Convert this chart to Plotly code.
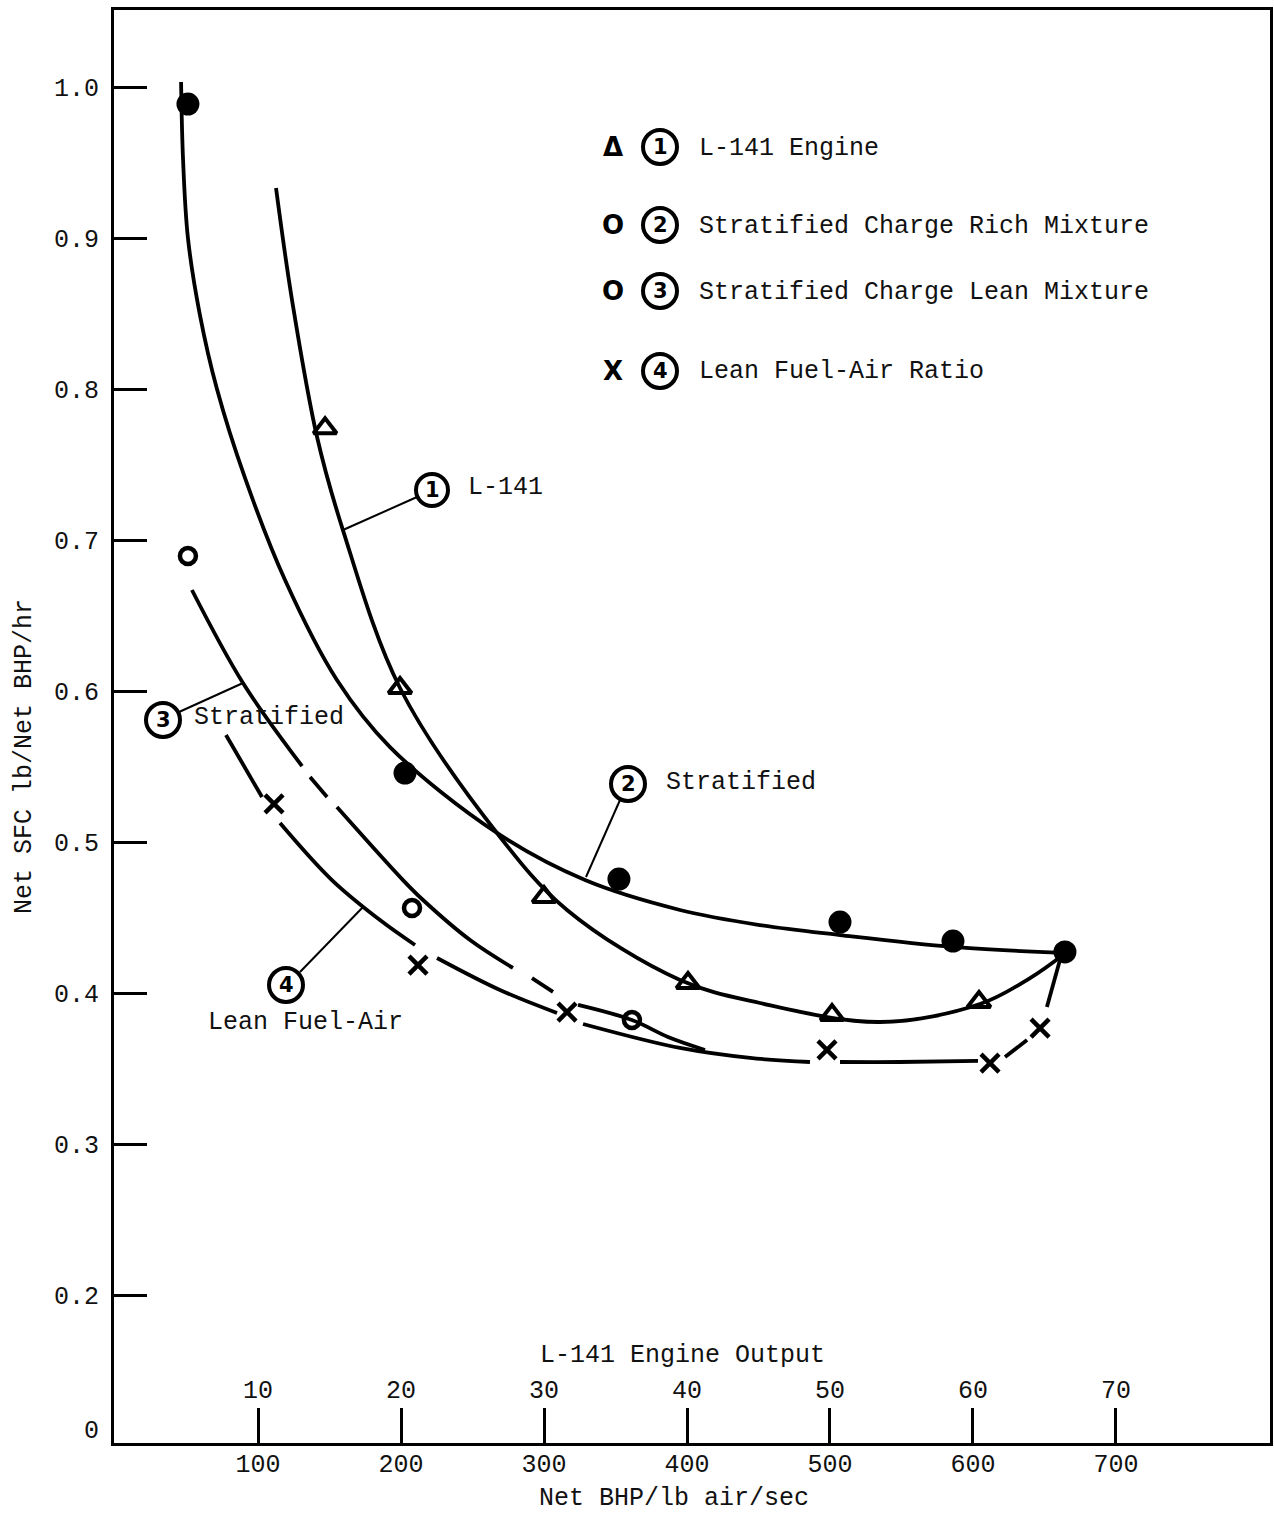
import plotly.graph_objects as go

FONT = "Liberation Mono, Courier New, monospace"
BOLD = "DejaVu Sans, Liberation Sans, sans-serif"
INK = "#111111"

# ---------------- data ----------------
# Net BHP/lb air/sec  vs  Net SFC lb/Net BHP/hr
l141_x = [146.9, 199.3, 300.0, 400.7, 501.4, 604.2]
l141_y = [0.774, 0.602, 0.4636, 0.4066, 0.3854, 0.394]

rich_x = [51.0, 202.8, 352.4, 507.0, 586.0, 664.3]
rich_y = [0.9887, 0.5457, 0.4755, 0.447, 0.4344, 0.4272]

lean_x = [51.0, 207.7, 361.5]
lean_y = [0.6894, 0.4563, 0.3821]

fa_x = [111.2, 211.9, 316.1, 497.9, 611.9, 646.9]
fa_y = [0.5252, 0.4185, 0.3874, 0.3623, 0.3536, 0.3768]

# faired curves (None = break in the pen stroke)
curve1_x = [112.6, 123.8, 141.3, 159.4, 199.3, 267.1, 316.1, 395.1, 451.0,
            535.0, 604.9, 639.9, 662.9]
curve1_y = [0.9331, 0.8589, 0.7682, 0.7066, 0.602, 0.506, 0.455, 0.4086, 0.3934,
            0.3808, 0.3927, 0.4099, 0.4252]

curve2_x = [46.2, 47.6, 51.0, 59.4, 71.3, 90.9, 118.9, 155.2, 192.3, 267.1,
            328.7, 395.1, 451.0, 507.0, 586.0, 662.9]
curve2_y = [1.0033, 0.9517, 0.9, 0.849, 0.8, 0.7411, 0.6735, 0.6073, 0.5629, 0.506,
            0.4748, 0.455, 0.445, 0.4384, 0.4305, 0.4265]

curve3_x = [53.8, 89.5, 130.8, None, 136.4, 148.3, None,
            155.2, 201.4, 215.4, 248.3, 278.3, None, 291.6, 306.3, None,
            323.8, 361.5, 386.7, 412.6]
curve3_y = [0.6669, 0.6053, 0.5503, None, 0.543, 0.5298, None,
            0.5232, 0.4748, 0.4616, 0.4351, 0.4166, None, 0.4099, 0.4007, None,
            0.3921, 0.3821, 0.3709, 0.3623]

curve4_x = [77.6, 102.8, None, 115.4, 151.7, 185.3, 209.8, None,
            225.2, 269.2, 309.1, None, 327.3, 395.1, 444.1, 486.0, None,
            507.0, 549.0, 603.5, None, 622.4, 637.8, None, 651.7, 660.8]
curve4_y = [0.5709, 0.5298, None, 0.5126, 0.4748, 0.4483, 0.4318, None,
            0.4232, 0.402, 0.3868, None, 0.3795, 0.3636, 0.357, 0.3543, None,
            0.3543, 0.3543, 0.355, None, 0.3576, 0.3689, None, 0.3907, 0.4219]

x_ticks = [100, 200, 300, 400, 500, 600, 700]
x_ticktext = ["100", "200", "300", "400", "500", "600", "700"]
engine_ticktext = ["10", "20", "30", "40", "50", "60", "70"]
y_ticks = [0.2, 0.3, 0.4, 0.5, 0.6, 0.7, 0.8, 0.9, 1.0]
y_ticktext = ["0.2", "0.3", "0.4", "0.5", "0.6", "0.7", "0.8", "0.9", "1.0"]

legend_syms = ["\u0394", "O", "O", "X"]
legend_nums = ["1", "2", "3", "4"]
legend_text = ["L-141 Engine", "Stratified Charge Rich Mixture",
               "Stratified Charge Lean Mixture", "Lean Fuel-Air Ratio"]

# ---------------- layout geometry helpers (pixels -> paper) ----------------
W, H = 1274, 1519
L, R, T, B = 114, 1270, 10, 1443


def xp(px):
    return (px - L) / (R - L)


def yp(py):
    return (B - py) / (B - T)


fig = go.Figure()

line_style = dict(color="black", width=3.8, shape="spline", smoothing=1.0)
for cx, cy in [(curve1_x, curve1_y), (curve2_x, curve2_y),
               (curve3_x, curve3_y), (curve4_x, curve4_y)]:
    fig.add_trace(go.Scatter(x=cx, y=cy, mode="lines", line=line_style,
                             connectgaps=False, showlegend=False, hoverinfo="skip"))

fig.add_trace(go.Scatter(x=l141_x, y=l141_y, mode="markers", showlegend=False,
                         marker=dict(symbol="triangle-up-open", size=20,
                                     color="black", line=dict(width=4, color="black"))))
fig.add_trace(go.Scatter(x=rich_x, y=rich_y, mode="markers", showlegend=False,
                         marker=dict(symbol="circle", size=23, color="black",
                                     line=dict(width=0))))
fig.add_trace(go.Scatter(x=lean_x, y=lean_y, mode="markers", showlegend=False,
                         marker=dict(symbol="circle-open", size=16, color="black",
                                     line=dict(width=4.5, color="black"))))
fig.add_trace(go.Scatter(x=fa_x, y=fa_y, mode="markers", showlegend=False,
                         marker=dict(symbol="x-thin-open", size=18, color="black",
                                     line=dict(width=4.5, color="black"))))
# carrier for the engine-output scale
fig.add_trace(go.Scatter(x=[x_ticks[0]], y=[y_ticks[0]], xaxis="x2", mode="markers",
                         marker=dict(opacity=0), showlegend=False, hoverinfo="skip"))

shapes = []
annotations = []


def circled(cx, cy, num, r=17):
    shapes.append(dict(type="circle", xref="paper", yref="paper",
                       xsizemode="pixel", ysizemode="pixel",
                       xanchor=xp(cx), yanchor=yp(cy),
                       x0=-r, x1=r, y0=-r, y1=r,
                       line=dict(color="black", width=4)))
    annotations.append(dict(xref="paper", yref="paper", x=xp(cx), y=yp(cy),
                            text="<b>%s</b>" % num, showarrow=False,
                            xanchor="center", yanchor="middle",
                            font=dict(family=BOLD, size=21, color="black")))


def label(px, py, text, anchor="left", size=25, angle=0):
    annotations.append(dict(xref="paper", yref="paper", x=xp(px), y=yp(py),
                            text=text, showarrow=False, xanchor=anchor,
                            yanchor="middle", textangle=angle,
                            font=dict(family=FONT, size=size, color=INK)))


def leader(x0, y0, x1, y1):
    shapes.append(dict(type="line", xref="paper", yref="paper",
                       x0=xp(x0), y0=yp(y0), x1=xp(x1), y1=yp(y1),
                       line=dict(color="black", width=2)))


# legend block
rows_y = [147, 225, 291, 371]
for sym, num, txt, ry in zip(legend_syms, legend_nums, legend_text, rows_y):
    annotations.append(dict(xref="paper", yref="paper", x=xp(613), y=yp(ry),
                            text="<b>%s</b>" % sym, showarrow=False,
                            xanchor="center", yanchor="middle",
                            font=dict(family=BOLD, size=26, color="black")))
    circled(660, ry, num)
    label(697, ry + 1, txt)

# curve call-outs
circled(432, 490, "1", r=16)
label(466, 488, "L-141")
leader(343, 530, 417, 497)

circled(628, 784, "2")
label(664, 782, "Stratified")
leader(586, 877, 620, 800)

circled(163, 720, "3")
label(192, 717, "Stratified")
leader(179, 712, 243, 683)

circled(286, 985, "4")
leader(300, 972, 364, 906)
label(305, 1023, "Lean Fuel-Air", anchor="center")

# "0" at the origin of the broken scale
label(101, 1431, "0", anchor="right")

# axis titles
label(25, 757, "Net SFC lb/Net BHP/hr", anchor="center", angle=-90)
label(674, 1498, "Net BHP/lb air/sec", anchor="center")
label(682, 1355, "L-141 Engine Output", anchor="center")

fig.update_layout(
    width=W, height=H,
    margin=dict(l=L, r=W - R, t=T, b=H - B, autoexpand=False),
    paper_bgcolor="white", plot_bgcolor="white",
    font=dict(family=FONT, size=25, color=INK),
    shapes=shapes, annotations=annotations,
    xaxis=dict(range=[-0.7, 807.7], showgrid=False, zeroline=False,
               showline=True, linecolor="black", linewidth=3, mirror=True,
               tickmode="array", tickvals=x_ticks, ticktext=x_ticktext,
               ticks="inside", ticklen=35, tickwidth=2.5, tickcolor="black",
               ticklabelstandoff=-4,
               tickfont=dict(family=FONT, size=25, color=INK)),
    xaxis2=dict(range=[-0.7, 807.7], overlaying="x", anchor="free",
                position=yp(1403), side="top", showgrid=False, zeroline=False,
                showline=False, ticks="", tickmode="array", tickvals=x_ticks,
                ticktext=engine_ticktext,
                tickfont=dict(family=FONT, size=25, color=INK)),
    yaxis=dict(range=[0.102, 1.051], showgrid=False, zeroline=False,
               showline=True, linecolor="black", linewidth=3, mirror=True,
               tickmode="array", tickvals=y_ticks, ticktext=y_ticktext,
               ticks="inside", ticklen=33, tickwidth=2.5, tickcolor="black",
               ticklabelstandoff=7,
               tickfont=dict(family=FONT, size=25, color=INK)),
)

fig.write_html("out.html")
